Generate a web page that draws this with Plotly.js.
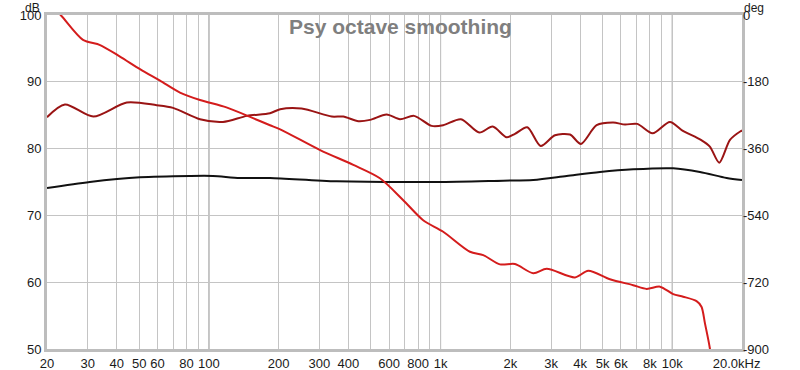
<!DOCTYPE html>
<html>
<head>
<meta charset="utf-8">
<script src="https://cdn.plot.ly/plotly-3.0.1.min.js"></script>
<style>html,body{margin:0;padding:0;background:#fff;}#chart{width:800px;height:370px;}</style>
</head>
<body>
<div id="chart"></div>
<script>
// SPL curve (dark red), dB
var splFreq = [20, 23.9, 31.7, 44.2, 59.5, 70, 91.5, 115, 146, 183.5, 203, 251, 339, 380, 442, 496, 585, 668, 768, 915, 1026, 1224, 1469, 1678, 1928, 2094, 2367, 2704, 3118, 3617, 4036, 4713, 5561, 6250, 7066, 8225, 9770, 11070, 13290, 14530, 15950, 17750, 19720, 20000];
var splDb = [84.7, 86.6, 84.8, 86.9, 86.5, 86.1, 84.4, 84.0, 84.9, 85.3, 85.9, 86.0, 84.8, 84.8, 84.1, 84.3, 85.1, 84.4, 84.9, 83.4, 83.5, 84.4, 82.4, 83.3, 81.7, 82.2, 83.2, 80.4, 82.0, 82.1, 80.7, 83.5, 83.9, 83.6, 83.7, 82.3, 84.0, 82.7, 81.3, 80.3, 77.9, 81.3, 82.6, 82.7];

// Black curve, dB
var blkFreq = [20, 30.6, 50.4, 82.8, 104, 136, 183.5, 356, 962, 1863, 2512, 3500, 4875, 6780, 10090, 13160, 17170, 20000];
var blkDb = [74.1, 75.0, 75.7, 75.9, 75.9, 75.6, 75.6, 75.1, 75.0, 75.2, 75.3, 75.9, 76.5, 76.9, 77.05, 76.5, 75.6, 75.3];

// Phase curve (red), degrees
var phFreq = [20, 22.9, 28.6, 33.9, 41.3, 50.4, 61.5, 75, 91.5, 119, 155, 183.5, 203, 302, 420, 547, 690, 841, 1026, 1339, 1528, 1805, 2094, 2512, 2871, 3801, 4339, 5380, 6780, 7750, 8850, 10090, 11150, 12730, 13370, 13840, 14530, 14800];
var phDeg = [35, 0, -67, -81, -112, -146, -177, -209, -229, -249, -278, -297, -308, -364, -404, -440, -499, -553, -584, -638, -647, -672, -671, -696, -684, -707, -689, -712, -728, -738, -732, -752, -759, -771, -786, -831, -898, -950];

// Axis ticks
var xGridVals = [20,30,40,50,60,70,80,90,100,200,300,400,500,600,700,800,900,1000,2000,3000,4000,5000,6000,7000,8000,9000,10000,20000];
var xGridText = ['20','30','40','50','60','','80','','100','200','300','400','','600','','800','','1k','2k','3k','4k','5k','6k','','8k','','10k','20.0kHz\u00a0\u00a0\u00a0'];
var decades = [100, 1000, 10000];
var dbTicks = [50, 60, 70, 80, 90, 100];
var degTicks = [-900, -720, -540, -360, -180, 0];
var degText = ['-900', '-720', '-540', '-360', '-180', '0'];
var chartTitle = 'Psy octave smoothing';
var leftUnit = 'dB';
var rightUnit = 'deg';

var FONT = '"Liberation Sans", Arial, sans-serif';

var traces = [
  {x: splFreq, y: splDb, type: 'scatter', mode: 'lines', yaxis: 'y',
   line: {color: '#9a1414', width: 2, shape: 'spline', smoothing: 0.8}, hoverinfo: 'skip'},
  {x: blkFreq, y: blkDb, type: 'scatter', mode: 'lines', yaxis: 'y',
   line: {color: '#111111', width: 2, shape: 'spline', smoothing: 0.8}, hoverinfo: 'skip'},
  {x: phFreq, y: phDeg, type: 'scatter', mode: 'lines', yaxis: 'y2',
   line: {color: '#d41c1c', width: 2, shape: 'spline', smoothing: 0.8}, hoverinfo: 'skip'}
];

var shapes = decades.map(function (d) {
  return {type: 'line', xref: 'x', yref: 'paper', x0: d, x1: d, y0: 0, y1: 1,
          line: {color: '#808080', width: 1}, layer: 'between'};
});

var layout = {
  width: 800, height: 370,
  margin: {l: 47, r: 58, t: 15, b: 21, pad: 0},
  paper_bgcolor: '#ffffff', plot_bgcolor: '#ffffff',
  showlegend: false,
  font: {family: FONT, size: 13, color: '#1a1a1a'},
  xaxis: {
    type: 'log', range: [Math.log10(20), Math.log10(20000)],
    tickmode: 'array', tickvals: xGridVals, ticktext: xGridText,
    showgrid: true, gridcolor: '#c4c4c4', gridwidth: 1,
    showline: true, mirror: true, linecolor: '#bdbdbd', linewidth: 3,
    ticks: '', zeroline: false, automargin: false, fixedrange: true,
    tickfont: {family: FONT, size: 13, color: '#1a1a1a'}
  },
  yaxis: {
    range: [50, 100], tickmode: 'array', tickvals: dbTicks,
    showgrid: true, gridcolor: '#c4c4c4', gridwidth: 1,
    showline: true, mirror: true, linecolor: '#bdbdbd', linewidth: 3,
    ticks: '', zeroline: false, automargin: false, fixedrange: true,
    tickfont: {family: FONT, size: 13, color: '#1a1a1a'}
  },
  yaxis2: {
    overlaying: 'y', side: 'right', range: [-900, 0],
    tickmode: 'array', tickvals: degTicks, ticktext: degText,
    showgrid: false, showline: false, zeroline: false, ticks: '',
    automargin: false, fixedrange: true,
    tickfont: {family: FONT, size: 13, color: '#1a1a1a'}
  },
  shapes: shapes,
  annotations: [
    {text: chartTitle, xref: 'paper', yref: 'paper', x: 0.508, y: 0.967,
     xanchor: 'center', yanchor: 'middle', showarrow: false,
     font: {family: FONT, size: 21, color: '#7f7f7f', weight: 'bold'}},
    {text: leftUnit, xref: 'paper', yref: 'paper', x: -0.021, y: 1.0449,
     xanchor: 'center', yanchor: 'top', showarrow: false, borderpad: 0,
     font: {family: FONT, size: 12, color: '#1a1a1a'}},
    {text: rightUnit, xref: 'paper', yref: 'paper', x: 1.017, y: 1.0449,
     xanchor: 'center', yanchor: 'top', showarrow: false, borderpad: 0,
     font: {family: FONT, size: 12, color: '#1a1a1a'}}
  ]
};

Plotly.newPlot('chart', traces, layout, {staticPlot: true, displayModeBar: false});
</script>
</body>
</html>
